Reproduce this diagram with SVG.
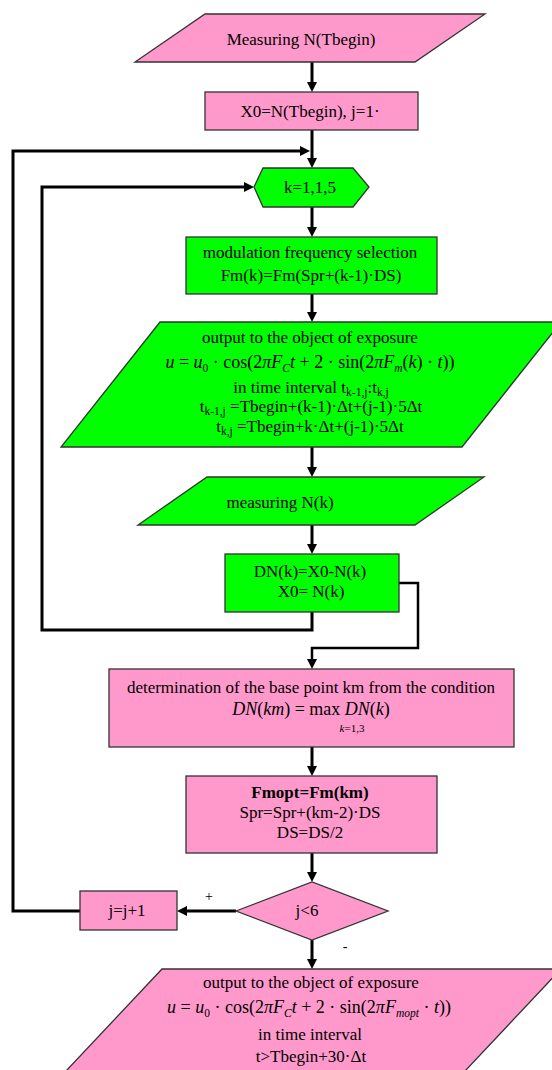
<svg xmlns="http://www.w3.org/2000/svg" width="552" height="1070" viewBox="0 0 552 1070">
<style>
.pk{fill:#ff99cc;stroke:#333;stroke-width:1.3}
.gr{fill:#00ff00;stroke:#333;stroke-width:1.3}
.c{fill:none;stroke:#000;stroke-width:3}
text{font-family:"Liberation Serif","Times New Roman",serif;font-size:17px;fill:#000;text-anchor:middle}
.f{font-size:18px}
.i{font-style:italic}
.s{font-size:11.5px}
.b{font-weight:bold}
.lbl{font-size:14px}
</style>
<defs>
<marker id="ah" viewBox="0 0 10 10" refX="2" refY="5" markerWidth="10" markerHeight="10" markerUnits="userSpaceOnUse" orient="auto">
<path d="M0,0 L10,5 L0,10 z" fill="#000"/>
</marker>
</defs>
<g id="connectors">
<line class="c" x1="312" y1="62" x2="312" y2="84" marker-end="url(#ah)"/>
<line class="c" x1="312" y1="130" x2="312" y2="160" marker-end="url(#ah)"/>
<polyline class="c" points="80,911 13,911 13,151 302,151" marker-end="url(#ah)"/>
<line class="c" x1="312" y1="207" x2="312" y2="229" marker-end="url(#ah)"/>
<line class="c" x1="312" y1="294" x2="312" y2="314" marker-end="url(#ah)"/>
<line class="c" x1="312" y1="447" x2="312" y2="469" marker-end="url(#ah)"/>
<line class="c" x1="312" y1="525" x2="312" y2="546" marker-end="url(#ah)"/>
<polyline class="c" points="312,612 312,630 42,630 42,187 246,187" marker-end="url(#ah)"/>
<polyline class="c" style="stroke-width:2.5" points="399,583 418,583 418,648 312,648 312,661" marker-end="url(#ah)"/>
<line class="c" x1="312" y1="747" x2="312" y2="768" marker-end="url(#ah)"/>
<line class="c" x1="312" y1="853" x2="312" y2="874" marker-end="url(#ah)"/>
<line class="c" x1="236" y1="911" x2="185" y2="911" marker-end="url(#ah)"/>
<line class="c" x1="312" y1="940" x2="312" y2="961" marker-end="url(#ah)"/>
<text class="lbl" x="209" y="901">+</text>
<text class="lbl" x="345" y="951">-</text>
</g>
<g id="n1">
<polygon class="pk" points="205,14 485,14 415,62 135,62"/>
<text x="301" y="45">Measuring N(Tbegin)</text>
</g>
<g id="n2">
<rect class="pk" x="205" y="92" width="213" height="38"/>
<text x="310" y="117">X0=N(Tbegin), j=1·</text>
</g>
<g id="n3">
<polygon class="gr" points="254,187 263,168 353,168 369,187 353,207 263,207"/>
<text x="310" y="193">k=1,1,5</text>
</g>
<g id="n4">
<rect class="gr" x="186" y="237" width="251" height="57"/>
<text x="310" y="258">modulation frequency selection</text>
<text x="311" y="281">Fm(k)=Fm(Spr+(k-1)·DS)</text>
</g>
<g id="n5">
<polygon class="gr" points="160,322 561,322 462,447 61,447"/>
<text x="310" y="343">output to the object of exposure</text>
<text class="f" x="310" y="368"><tspan class="i">u</tspan> = <tspan class="i">u</tspan><tspan class="s" dy="4">0</tspan><tspan dy="-4"> · cos(2</tspan><tspan class="i">πF</tspan><tspan class="i s" dy="4">C</tspan><tspan class="i" dy="-4">t</tspan> + 2 · sin(2<tspan class="i">πF</tspan><tspan class="i s" dy="4">m</tspan><tspan dy="-4">(</tspan><tspan class="i">k</tspan>) · <tspan class="i">t</tspan>))</text>
<text x="311" y="393">in time interval t<tspan class="s" dy="3">k-1,j</tspan><tspan dy="-3">:t</tspan><tspan class="s" dy="3">k,j</tspan></text>
<text x="311" y="412">t<tspan class="s" dy="3">k-1,j</tspan><tspan dy="-3"> =Tbegin+(k-1)·Δt+(j-1)·5Δt</tspan></text>
<text x="310" y="432">t<tspan class="s" dy="3">k,j</tspan><tspan dy="-3"> =Tbegin+k·Δt+(j-1)·5Δt</tspan></text>
</g>
<g id="n6">
<polygon class="gr" points="207,477 484,477 415,525 138,525"/>
<text x="280" y="508">measuring N(k)</text>
</g>
<g id="n7">
<rect class="gr" x="225" y="554" width="174" height="58"/>
<text x="310" y="577">DN(k)=X0-N(k)</text>
<text x="311" y="597">X0= N(k)</text>
</g>
<g id="n8">
<rect class="pk" x="109" y="669" width="405" height="78"/>
<text x="311" y="693">determination of the base point km from the condition</text>
<text class="f" x="311" y="715"><tspan class="i">DN</tspan>(<tspan class="i">km</tspan>) = max <tspan class="i">DN</tspan>(<tspan class="i">k</tspan>)</text>
<text x="352" y="732" style="font-size:11px"><tspan class="i">k</tspan>=1,3</text>
</g>
<g id="n9">
<rect class="pk" x="186" y="776" width="251" height="77"/>
<text class="b" x="310" y="798">Fmopt=Fm(km)</text>
<text x="310" y="818">Spr=Spr+(km-2)·DS</text>
<text x="310" y="838">DS=DS/2</text>
</g>
<g id="n10">
<polygon class="pk" points="236,911 312,882 388,911 312,940"/>
<text x="307" y="916">j&lt;6</text>
</g>
<g id="n11">
<rect class="pk" x="80" y="891" width="97" height="39"/>
<text x="127" y="916">j=j+1</text>
</g>
<g id="n12">
<polygon class="pk" points="162,969 561,969 465,1071 66,1071"/>
<text x="311" y="988">output to the object of exposure</text>
<text class="f" x="309" y="1013"><tspan class="i">u</tspan> = <tspan class="i">u</tspan><tspan class="s" dy="4">0</tspan><tspan dy="-4"> · cos(2</tspan><tspan class="i">πF</tspan><tspan class="i s" dy="4">C</tspan><tspan class="i" dy="-4">t</tspan> + 2 · sin(2<tspan class="i">πF</tspan><tspan class="i s" dy="4">mopt</tspan><tspan dy="-4"> · </tspan><tspan class="i">t</tspan>))</text>
<text x="310" y="1040">in time interval</text>
<text x="311" y="1062">t&gt;Tbegin+30·Δt</text>
</g>
</svg>
